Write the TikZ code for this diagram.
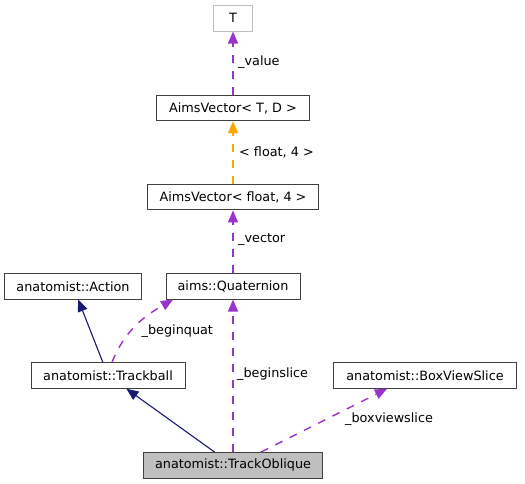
\documentclass[tikz,border=0pt]{standalone}
\usepackage{fontspec}
\setmainfont{DejaVu Sans}
\usetikzlibrary{arrows.meta}
\definecolor{inheritcol}{HTML}{191970}
\definecolor{membercol}{HTML}{9A32CD}
\definecolor{tmplcol}{HTML}{FFA500}

\begin{document}
\begin{tikzpicture}[x=1pt, y=-1pt, >={Triangle[length=12pt,width=10pt]},
    cls/.style={rectangle, draw=black!75, fill=white, line width=1pt, minimum height=25.5pt, inner sep=0pt, font=\fontsize{12.8}{15}\selectfont},
    lbl/.style={anchor=west, inner sep=0pt, font=\fontsize{12.8}{15}\selectfont},
    inherit/.style={->, draw=inheritcol, line width=1.1pt},
    member/.style={->, draw=membercol, line width=1.4pt, dash pattern=on 8pt off 8pt},
    tmpl/.style={->, draw=tmplcol, line width=1.4pt, dash pattern=on 8pt off 8pt}]

            \useasboundingbox (0,0) rectangle (525,484);

            % Classes
            \node[cls, draw=black!25, minimum width=39pt] (T) at (233,18.3) {T};
            \node[cls, minimum width=153pt] (AimsVecTD) at (233,108) {AimsVector< T, D >};
            \node[cls, minimum width=171pt] (AimsVecF4) at (233,197.2) {AimsVector< float, 4 >};
            \node[cls, minimum width=134pt] (Quat) at (233,286.3) {aims::Quaternion};
            \node[cls, minimum width=137pt] (Action) at (73,286.3) {anatomist::Action};
            \node[cls, minimum width=154pt] (Trackball) at (108,375.5) {anatomist::Trackball};
            \node[cls, minimum width=183pt] (BoxViewSlice) at (425,375.5) {anatomist::BoxViewSlice};
            \node[cls, fill=black!25, minimum width=179pt] (TrackOblique) at (233,465.3) {anatomist::TrackOblique};

            % Inheritance
            \draw[inherit] (Trackball) -- (Action);
            \draw[inherit] (TrackOblique) -- (Trackball);

            % Members
            \draw[member] (TrackOblique.north) -- (Quat.south);
            \draw[member] ([xshift=28pt]TrackOblique.north) -- ([xshift=-38pt]BoxViewSlice.south);
            \draw[member] ([xshift=4pt]Trackball.north) to[out=68, in=-150] ([xshift=-60pt]Quat.south);
            \draw[member] (Quat.north) -- (AimsVecF4.south);
            \draw[tmpl] (AimsVecF4.north) -- (AimsVecTD.south);
            \draw[member] (AimsVecTD.north) -- (T.south);

            % Labels
            \node[lbl] (Lvalue) at (238,62) {\_value};
            \node[lbl] (Lfloat) at (239,152) {< float, 4 >};
            \node[lbl] (Lvector) at (238,240) {\_vector};
            \node[lbl] (Lbeginquat) at (141.5,331) {\_beginquat};
            \node[lbl] (Lbeginslice) at (237,374) {\_beginslice};
            \node[lbl] (Lboxviewslice) at (345,419) {\_boxviewslice};

        \end{tikzpicture}
\end{document}
